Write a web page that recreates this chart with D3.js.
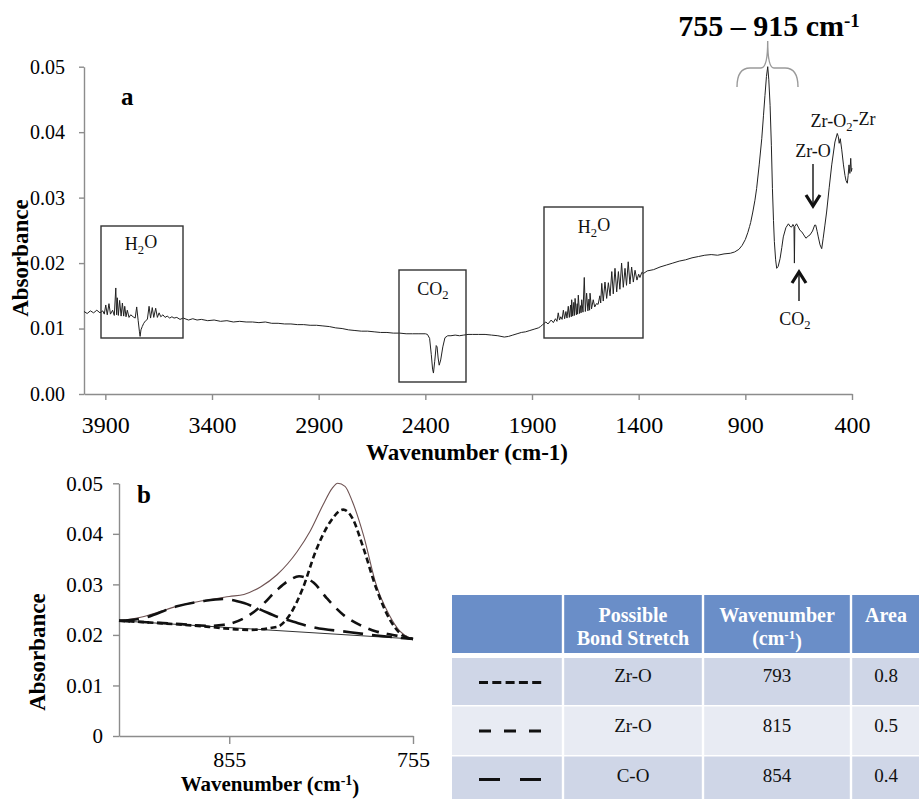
<!DOCTYPE html>
<html>
<head>
<meta charset="utf-8">
<script src="https://cdn.jsdelivr.net/npm/d3@7.9.0/dist/d3.min.js"></script>
<style>
  body { margin: 0; background: #fff; }
  svg text { font-family: "Liberation Serif", "Times New Roman", serif; }
</style>
</head>
<body>
<div id="chart"></div>
<script>
// ---- panel a: full spectrum, [wavenumber, absorbance] ----
const h2oStretch = [
  [4000,0.0126],[3985,0.0123],[3970,0.0127],[3955,0.0124],[3940,0.0128],[3925,0.0124],[3912,0.0127],
  [3905,0.0122],[3898,0.0136],[3891,0.0121],[3883,0.0138],[3876,0.0122],[3866,0.0128],[3858,0.0120],
  [3851,0.0162],[3847,0.0121],[3844,0.0147],[3839,0.0120],[3833,0.0143],[3826,0.0119],[3820,0.0139],
  [3814,0.0119],[3809,0.0134],[3803,0.0118],[3797,0.0128],[3789,0.0117],[3781,0.0121],[3770,0.0118],
  [3760,0.0116],[3753,0.0133],[3746,0.0112],[3740,0.0095],[3737,0.0088],[3733,0.0098],[3727,0.0103],
  [3720,0.0108],[3711,0.0112],[3703,0.0114],[3695,0.0134],[3688,0.0116],[3680,0.0132],[3673,0.0117],
  [3664,0.0131],[3656,0.0117],[3648,0.0124],[3640,0.0118],[3630,0.0121],[3620,0.0117],[3610,0.0119],
  [3598,0.0116],[3588,0.0118],[3578,0.0116],[3565,0.0117],[3550,0.0114],[3535,0.0116]
];
const plateau = [
  [3510,0.0113],[3490,0.0115],[3470,0.0113],[3450,0.0114],[3420,0.0112],[3390,0.0113],[3360,0.0111],
  [3330,0.0112],[3300,0.0110],[3270,0.0111],[3240,0.0110],[3210,0.0110],[3180,0.0109],[3150,0.0110],
  [3120,0.0108],[3090,0.0108],[3060,0.0107],[3030,0.0107],[3000,0.0106],[2970,0.0106],[2940,0.0105],
  [2910,0.0105],[2880,0.0104],[2850,0.0103],[2820,0.0101],[2790,0.0100],[2760,0.0098],[2730,0.0097],
  [2700,0.0096],[2670,0.0096],[2640,0.0095],[2610,0.0094],[2580,0.0094],[2550,0.0093],[2520,0.0093],
  [2490,0.0092],[2460,0.0092],[2430,0.0092],[2400,0.0092]
];
const co2Band = [
  [2390,0.0091],[2380,0.0085],[2372,0.0060],[2366,0.0038],[2362,0.0032],[2356,0.0050],[2349,0.0074],
  [2345,0.0072],[2340,0.0055],[2335,0.0044],[2328,0.0052],[2318,0.0072],[2308,0.0086],[2295,0.0089],
  [2280,0.0089],[2260,0.0090],[2240,0.0089],[2220,0.0090],[2200,0.0091],[2180,0.0091],[2150,0.0091],
  [2120,0.0091],[2090,0.0090],[2060,0.0089],[2030,0.0087],[2010,0.0088],[1990,0.0090],[1970,0.0092],
  [1950,0.0094],[1930,0.0095],[1910,0.0097],[1890,0.0099],[1870,0.0101],[1860,0.0103]
];
const h2oBend = [
  [1850,0.0106],[1835,0.0110],[1825,0.0107],[1810,0.0113],[1800,0.0109],[1790,0.0115],[1783,0.0111],
  [1777,0.0124],[1771,0.0113],[1765,0.0118],[1759,0.0114],[1753,0.0128],[1747,0.0115],[1741,0.0126],
  [1736,0.0116],[1730,0.0134],[1725,0.0117],[1719,0.0136],[1716,0.0118],[1714,0.0144],[1709,0.0119],
  [1704,0.0140],[1701,0.0120],[1698,0.0146],[1692,0.0121],[1688,0.0138],[1686,0.0122],[1683,0.0151],
  [1677,0.0123],[1672,0.0135],[1670,0.0124],[1667,0.0144],[1661,0.0125],[1655,0.0178],[1650,0.0126],
  [1644,0.0154],[1638,0.0127],[1633,0.0145],[1630,0.0128],[1628,0.0154],[1621,0.0130],[1613,0.0144],
  [1606,0.0133],[1598,0.0138],[1590,0.0137],[1582,0.0150],[1578,0.0139],[1573,0.0169],[1566,0.0142],
  [1558,0.0171],[1550,0.0146],[1542,0.0170],[1534,0.0150],[1526,0.0187],[1519,0.0153],[1511,0.0192],
  [1503,0.0156],[1495,0.0187],[1488,0.0160],[1480,0.0200],[1472,0.0163],[1464,0.0192],[1457,0.0166],
  [1449,0.0202],[1441,0.0168],[1433,0.0194],[1425,0.0171],[1417,0.0189],[1408,0.0174],[1400,0.0183],
  [1394,0.0178],[1385,0.0186],[1378,0.0184]
];
const fingerprint = [
  [1360,0.0188],[1330,0.0190],[1300,0.0194],[1270,0.0197],[1240,0.0200],[1210,0.0203],[1180,0.0205],
  [1150,0.0208],[1120,0.0210],[1090,0.0212],[1060,0.0213],[1030,0.0212],[1000,0.0214],[970,0.0215],
  [950,0.0217],[930,0.0221],[915,0.0227],[900,0.0236],[888,0.0247],[880,0.0256],[875,0.0262],
  [865,0.0278],[855,0.0296],[847,0.0314],[835,0.0350],[823,0.0390],[815,0.0425],[808,0.0456],
  [801,0.0485],[795,0.0500],[790,0.0480],[784,0.0441],[778,0.0380],[773,0.0314],[768,0.0265],
  [764,0.0233],[758,0.0205],[753,0.0192],[746,0.0195],[737,0.0207],[729,0.0224],[722,0.0240],
  [710,0.0254],[698,0.0260],[690,0.0256],[683,0.0255],[677,0.0259],[672,0.0256],[670,0.0200],
  [668,0.0256],[660,0.0260],[652,0.0255],[644,0.0250],[636,0.0248],[626,0.0243],[616,0.0238],
  [606,0.0241],[597,0.0243],[585,0.0249],[575,0.0258],[570,0.0258],[563,0.0248],[558,0.0240],
  [550,0.0228],[542,0.0222],[535,0.0238],[527,0.0258],[519,0.0278],[507,0.0315],[495,0.0350],
  [480,0.0385],[469,0.0398],[464,0.0393],[460,0.0383],[455,0.0390],[448,0.0373],[440,0.0350],
  [433,0.0334],[428,0.0326],[422,0.0322],[418,0.0334],[414,0.0350],[410,0.0337],[406,0.0360],
  [403,0.0340],[400,0.0345]
];
const spectrum = [...h2oStretch, ...plateau, ...co2Band, ...h2oBend, ...fingerprint];

const xTicksA = [3900, 3400, 2900, 2400, 1900, 1400, 900, 400];
const yTicks = [0, 0.01, 0.02, 0.03, 0.04, 0.05];

// ---- panel b: deconvolution of 755-915 band ----
const baseLine = [[915,0.0228],[755,0.0192]];
const totalFit = [
  [915,0.0228],[902,0.0236],[893,0.0246],[884,0.0256],[875,0.0264],[865,0.0270],[855,0.0276],
  [847,0.0280],[838,0.0295],[829,0.0319],[818,0.0365],[811,0.0405],[804,0.0457],[799,0.0490],
  [796,0.0500],[792,0.0494],[788,0.0464],[782,0.0398],[775,0.0299],[768,0.0240],[762,0.0207],
  [756,0.0193],[755,0.0192]
];
const peak793 = [
  [915,0.0228],[900,0.0225],[884,0.0221],[866,0.0216],[858,0.0213],[844,0.0210],[829,0.0216],
  [822,0.0240],[815,0.0292],[808,0.0365],[800,0.0424],[793,0.0448],[788,0.0431],[782,0.0372],
  [775,0.0292],[768,0.0233],[761,0.0200],[756,0.0193],[755,0.0192]
];
const peak815 = [
  [915,0.0228],[900,0.0225],[884,0.0222],[866,0.0218],[858,0.0220],[847,0.0233],[838,0.0256],
  [829,0.0289],[822,0.0309],[817,0.0316],[809,0.0303],[802,0.0273],[793,0.0240],[784,0.0220],
  [775,0.0207],[766,0.0200],[755,0.0192]
];
const peak854 = [
  [915,0.0228],[902,0.0233],[884,0.0256],[869,0.0267],[858,0.0271],[847,0.0263],[838,0.0250],
  [829,0.0236],[820,0.0226],[808,0.0214],[793,0.0207],[775,0.0199],[755,0.0192]
];
const xTicksB = [855, 755];

// table
const tableBonds = ["Zr-O", "Zr-O", "C-O"];
const tableWaves = ["793", "815", "854"];
const tableAreas = ["0.8", "0.5", "0.4"];
const tableDashes = ["9,4.3", "12,13", "21,20"];

const serif = '"Liberation Serif", "Times New Roman", serif';
const axisColor = "#8c8c8c";

const svg = d3.select("#chart").append("svg")
    .attr("width", 919)
    .attr("height", 799)
    .attr("font-family", serif);

svg.append("rect").attr("width", 919).attr("height", 799).attr("fill", "#fff");

function styleAxis(g, size) {
    g.attr("font-family", serif).attr("font-size", size);
    g.select(".domain").attr("stroke", axisColor).attr("stroke-width", 1.4);
    g.selectAll(".tick line").attr("stroke", axisColor).attr("stroke-width", 1.4);
    g.selectAll(".tick text").attr("fill", "#000")
        .attr("font-family", serif)
        .style("font-family", serif)
        .style("font-size", size + "px");
}

// ================= panel a =================
const xA = d3.scaleLinear().domain([4000, 400]).range([84, 852]);
const yA = d3.scaleLinear().domain([0, 0.05]).range([394, 66.7]);

svg.append("g")
    .attr("transform", "translate(0,394)")
    .call(d3.axisBottom(xA).tickValues(xTicksA).tickFormat(d3.format("d"))
        .tickSize(6).tickSizeOuter(0).tickPadding(16))
    .call(g => styleAxis(g, 24));

svg.append("g")
    .attr("transform", "translate(84,0)")
    .call(d3.axisLeft(yA).tickValues(yTicks).tickFormat(d3.format(".2f"))
        .tickSize(5).tickSizeOuter(0).tickPadding(14))
    .call(g => styleAxis(g, 20));

svg.append("path")
    .datum(spectrum)
    .attr("fill", "none")
    .attr("stroke", "#222")
    .attr("stroke-width", 1)
    .attr("stroke-linejoin", "round")
    .attr("d", d3.line().x(d => xA(d[0])).y(d => yA(d[1])));

function subLabel(cx, by, parts, size) {
    const t = svg.append("text")
        .attr("x", cx).attr("y", by)
        .attr("text-anchor", "middle")
        .attr("font-size", size)
        .attr("fill", "#111");
    t.append("tspan").text(parts[0]);
    t.append("tspan").attr("dy", "0.3em").attr("font-size", size * 0.7).text(parts[1]);
    if (parts[2]) t.append("tspan").attr("dy", "-0.3em").text(parts[2]);
    return t;
}

// boxes round the H2O / CO2 regions
const boxes = [
    {x0: 101, x1: 183, y0: 226, y1: 338, label: ["H", "2", "O"], lx: 141, ly: 250},
    {x0: 399, x1: 466, y0: 270, y1: 382, label: ["CO", "2", ""], lx: 433, ly: 295},
    {x0: 544, x1: 643, y0: 207, y1: 338, label: ["H", "2", "O"], lx: 594, ly: 233}
];
boxes.forEach(b => {
    svg.append("rect")
        .attr("x", b.x0).attr("y", b.y0)
        .attr("width", b.x1 - b.x0).attr("height", b.y1 - b.y0)
        .attr("fill", "none").attr("stroke", "#333").attr("stroke-width", 1.4);
    subLabel(b.lx, b.ly, b.label, 18);
});

// panel letter + axis titles
svg.append("text").attr("x", 121).attr("y", 105)
    .attr("font-size", 25).attr("font-weight", "bold").text("a");

svg.append("text")
    .attr("x", 467).attr("y", 460)
    .attr("text-anchor", "middle")
    .attr("font-size", 23).attr("font-weight", "bold")
    .text("Wavenumber (cm-1)");

svg.append("text")
    .attr("transform", "translate(28,258) rotate(-90)")
    .attr("text-anchor", "middle")
    .attr("font-size", 23).attr("font-weight", "bold")
    .text("Absorbance");

// range title and brace
const rangeTitle = svg.append("text")
    .attr("x", 769).attr("y", 36)
    .attr("text-anchor", "middle")
    .attr("font-size", 30).attr("font-weight", "bold");
rangeTitle.append("tspan").text("755 – 915 cm");
rangeTitle.append("tspan").attr("dy", "-0.45em").attr("font-size", 19).text("-1");

svg.append("path")
    .attr("d", "M737,87 Q737,68 750,68 L761,68 Q767.7,68 767.7,41 Q767.7,68 774,68 L785,68 Q798,68 798,87")
    .attr("fill", "none").attr("stroke", "#9a9a9a").attr("stroke-width", 1.4);

// annotations
svg.append("text").attr("x", 813).attr("y", 157)
    .attr("text-anchor", "middle").attr("font-size", 18).attr("fill", "#111").text("Zr-O");
subLabel(843, 127, ["Zr-O", "2", "-Zr"], 18);
subLabel(795, 325, ["CO", "2", ""], 18);

function arrow(xp, yTail, yTip) {
    const dir = yTip > yTail ? 1 : -1;
    svg.append("line")
        .attr("x1", xp).attr("x2", xp).attr("y1", yTail).attr("y2", yTip)
        .attr("stroke", "#111").attr("stroke-width", 1.4);
    svg.append("path")
        .attr("d", `M${xp - 7},${yTip - dir * 11} L${xp},${yTip} L${xp + 7},${yTip - dir * 11}`)
        .attr("fill", "none").attr("stroke", "#111").attr("stroke-width", 3.2);
}
arrow(813, 164, 206);
arrow(799, 301, 272);

// ================= panel b =================
const xB = d3.scaleLinear().domain([915, 755]).range([119, 413]);
const yB = d3.scaleLinear().domain([0, 0.05]).range([736, 483.3]);

svg.append("g")
    .attr("transform", "translate(0,736)")
    .call(d3.axisBottom(xB).tickValues(xTicksB).tickSize(8).tickSizeOuter(0).tickPadding(7))
    .call(g => styleAxis(g, 22));

svg.append("g")
    .attr("transform", "translate(119,0)")
    .call(d3.axisLeft(yB).tickValues(yTicks)
        .tickFormat(d => d === 0 ? "0" : d3.format(".2f")(d))
        .tickSize(6).tickSizeOuter(0).tickPadding(10))
    .call(g => styleAxis(g, 21));

const lineB = d3.line().x(d => xB(d[0])).y(d => yB(d[1])).curve(d3.curveMonotoneX);

svg.append("path").datum(baseLine)
    .attr("fill", "none").attr("stroke", "#333").attr("stroke-width", 1)
    .attr("d", lineB);

svg.append("path").datum(totalFit)
    .attr("fill", "none").attr("stroke", "#6e5252").attr("stroke-width", 1.1)
    .attr("d", lineB);

[[peak854, "20,9"], [peak815, "11,8"], [peak793, "6,3.5"]].forEach(([data, dash]) => {
    svg.append("path").datum(data)
        .attr("fill", "none").attr("stroke", "#111").attr("stroke-width", 2.6)
        .attr("stroke-dasharray", dash)
        .attr("d", lineB);
});

svg.append("text").attr("x", 137).attr("y", 503)
    .attr("font-size", 25).attr("font-weight", "bold").text("b");

svg.append("text")
    .attr("transform", "translate(45,652) rotate(-90)")
    .attr("text-anchor", "middle")
    .attr("font-size", 23).attr("font-weight", "bold")
    .text("Absorbance");

const titleB = svg.append("text")
    .attr("x", 270).attr("y", 791)
    .attr("text-anchor", "middle")
    .attr("font-size", 21).attr("font-weight", "bold");
titleB.append("tspan").text("Wavenumber (cm");
titleB.append("tspan").attr("dy", "-0.45em").attr("font-size", 14).text("-1");
titleB.append("tspan").attr("dy", "0.45em").text(")");

// ================= table =================
const colX = [452, 563, 703, 851, 925];
const headerY = [595, 653];
const rowY = [[658, 705], [706.5, 755], [756.5, 800]];
const rowFill = ["#cfd6e7", "#e8ebf3", "#cfd6e7"];

for (let c = 0; c < 4; c++) {
    const x0 = colX[c] + (c ? 1.2 : 0);
    const w = colX[c + 1] - x0 - 1.2;
    svg.append("rect")
        .attr("x", x0).attr("y", headerY[0])
        .attr("width", w).attr("height", headerY[1] - headerY[0])
        .attr("fill", "#6a8ec8");
    rowY.forEach((r, i) => {
        svg.append("rect")
            .attr("x", x0).attr("y", r[0])
            .attr("width", w).attr("height", r[1] - r[0])
            .attr("fill", rowFill[i]);
    });
}

function headText(cx, y, txt) {
    return svg.append("text").attr("x", cx).attr("y", y)
        .attr("text-anchor", "middle").attr("font-size", 20).attr("font-weight", "bold")
        .attr("fill", "#fff").text(txt);
}
headText(633, 622, "Possible");
headText(633, 645, "Bond Stretch");
headText(777, 622, "Wavenumber");
const cmHead = svg.append("text").attr("x", 777).attr("y", 645)
    .attr("text-anchor", "middle").attr("font-size", 20).attr("font-weight", "bold").attr("fill", "#fff");
cmHead.append("tspan").text("(cm");
cmHead.append("tspan").attr("dy", "-0.45em").attr("font-size", 13).text("-1");
cmHead.append("tspan").attr("dy", "0.45em").text(")");
headText(886, 622, "Area");

const rowBase = [682, 732, 782];
const rowMid = [682.5, 731, 779.5];
tableBonds.forEach((b, i) => {
    const cells = [[633, b], [777, tableWaves[i]], [886, tableAreas[i]]];
    cells.forEach(([cx, t]) => {
        svg.append("text").attr("x", cx).attr("y", rowBase[i])
            .attr("text-anchor", "middle").attr("font-size", 19).attr("fill", "#111").text(t);
    });
    svg.append("line")
        .attr("x1", 479).attr("x2", 541.5)
        .attr("y1", rowMid[i]).attr("y2", rowMid[i])
        .attr("stroke", "#111").attr("stroke-width", 3.2)
        .attr("stroke-dasharray", tableDashes[i]);
});
</script>
</body>
</html>
